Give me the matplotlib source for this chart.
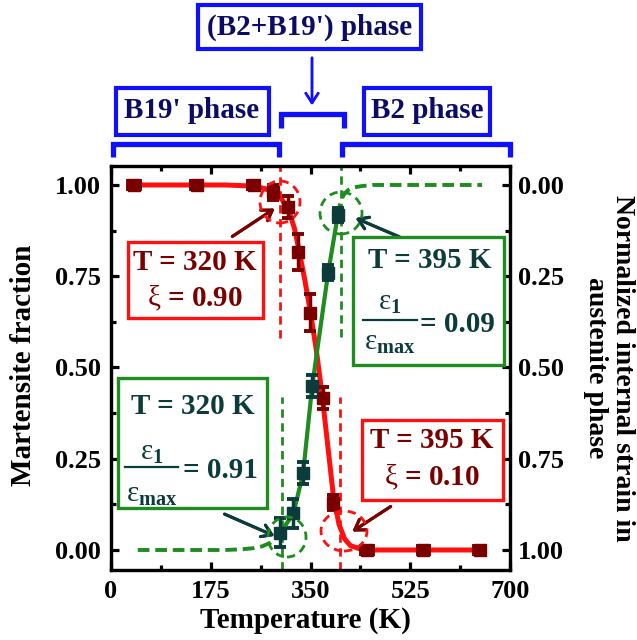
import matplotlib
matplotlib.use("Agg")
import matplotlib.pyplot as plt
from matplotlib.patches import Rectangle, Ellipse
from matplotlib.ticker import MultipleLocator

plt.rcParams["font.family"] = "Liberation Serif"
plt.rcParams["font.weight"] = "bold"
plt.rcParams["axes.labelweight"] = "bold"
plt.rcParams["mathtext.fontset"] = "custom"
plt.rcParams["mathtext.rm"] = "Liberation Serif:weight=bold"
plt.rcParams["mathtext.it"] = "Liberation Serif:weight=normal"
plt.rcParams["mathtext.bf"] = "Liberation Serif:weight=bold"

# martensite fraction data (left axis)
temp_mf = [40, 150, 250, 284, 311, 328, 349, 372, 389, 449, 548, 647]
frac_mf = [1.0, 1.0, 1.0, 0.98, 0.94, 0.816, 0.65, 0.416, 0.13, 0.0, 0.0, 0.0]
xerr_mf = [10, 10, 10, 6, 5, 3, 3, 3, 3, 10, 10, 10]
yerr_mf = [0.01, 0.01, 0.01, 0.02, 0.03, 0.05, 0.05, 0.03, 0.02, 0.01, 0.01, 0.01]

# martensite fraction fit curve
fit_temp = [40, 100, 150, 200, 250, 270, 285, 300, 312, 322, 330, 340, 350, 360,
            370, 380, 390, 400, 410, 420, 435, 450, 550, 650]
fit_mf = [1.0, 1.0, 1.0, 1.0, 0.997, 0.99, 0.98, 0.96, 0.93, 0.88, 0.82, 0.74, 0.65,
          0.55, 0.43, 0.29, 0.15, 0.07, 0.03, 0.012, 0.004, 0.0, 0.0, 0.0]

# normalized internal strain data (right axis, inverted)
temp_st = [297, 320, 337, 353, 381, 398]
strain = [0.953, 0.90, 0.79, 0.55, 0.24, 0.082]
xerr_st = [3, 3, 3, 3, 3, 3]
yerr_st = [0.04, 0.04, 0.03, 0.03, 0.02, 0.02]

# strain fit tails
tail_lo_temp = [47, 100, 150, 200, 230, 250, 265, 280, 290, 297]
tail_lo_strain = [1.0, 1.0, 1.0, 1.0, 0.998, 0.995, 0.99, 0.98, 0.968, 0.953]
tail_hi_temp = [398, 402, 408, 415, 425, 440, 460, 500, 600, 651]
tail_hi_strain = [0.082, 0.05, 0.028, 0.015, 0.007, 0.003, 0.0, 0.0, 0.0, 0.0]

RED = "#ff1010"
DRED = "#7a0000"
GREEN = "#1e8c1e"
DTEAL = "#0b3b3b"
BLUE = "#1010ff"
NAVY = "#0c0c66"

W, H = 637, 640
fig = plt.figure(figsize=(W / 100, H / 100), dpi=100)
ax = fig.add_axes([111 / W, 1 - 570 / H, 399 / W, 404 / H])
ax2 = ax.twinx()


def fx(x):
    return x / W


def fy(y):
    return 1 - y / H


# main curves
ax.plot(fit_temp, fit_mf, color=RED, lw=3.6, zorder=3)
ax.errorbar(temp_mf, frac_mf, xerr=xerr_mf, yerr=yerr_mf, fmt="s", ms=9,
            color=DRED, ecolor=DRED, elinewidth=2.5, capsize=4.5, capthick=2.8, zorder=4)

ax2.plot(temp_st, strain, color=GREEN, lw=3, zorder=3)
ax2.plot(tail_lo_temp, tail_lo_strain, color=GREEN, lw=2.8, ls=(0, (3, 1.5)), zorder=3)
ax2.plot(tail_hi_temp, tail_hi_strain, color=GREEN, lw=2.8, ls=(0, (3, 1.5)), zorder=3)
ax2.errorbar(temp_st, strain, xerr=xerr_st, yerr=yerr_st, fmt="s", ms=8,
             color=DTEAL, ecolor=DTEAL, elinewidth=2.5, capsize=4.5, capthick=2.8, zorder=4)

# vertical guide lines
ax.axvline(296, ymin=0.574, ymax=1, color=RED, lw=2, ls=(0, (3, 2)))
ax.axvline(402, ymin=0, ymax=0.428, color=RED, lw=2, ls=(0, (3, 2)))
ax.axvline(403, ymin=0.577, ymax=1, color=GREEN, lw=2, ls=(0, (3, 2)))
ax.axvline(300, ymin=0, ymax=0.427, color=GREEN, lw=2, ls=(0, (3, 2)))

# axes styling
ax.set_xlim(0, 700)
ax.set_ylim(-0.0548, 1.052)
ax2.set_ylim(1.0548, -0.052)
ax.xaxis.set_major_locator(MultipleLocator(175))
ax.xaxis.set_minor_locator(MultipleLocator(87.5))
for a in (ax, ax2):
    a.yaxis.set_major_locator(MultipleLocator(0.25))
    a.yaxis.set_minor_locator(MultipleLocator(0.125))
    for s in a.spines.values():
        s.set_linewidth(2.3)
ax.tick_params(which="both", direction="in", top=True, right=False, width=2.3, labelsize=19)
ax.tick_params(which="major", length=6, pad=7)
ax.tick_params(which="minor", length=3.5)
ax2.tick_params(which="both", direction="in", width=2.3, labelsize=19)
ax2.tick_params(which="major", length=6, pad=6)
ax2.tick_params(which="minor", length=3.5)
ax.set_yticks([0, 0.25, 0.5, 0.75, 1.0])
ax.set_yticklabels(["0.00", "0.25", "0.50", "0.75", "1.00"])
ax2.set_yticks([0, 0.25, 0.5, 0.75, 1.0])
ax2.set_yticklabels(["0.00", "0.25", "0.50", "0.75", "1.00"])

ax.set_xlabel("Temperature (K)", fontsize=21, fontweight="bold", va="center")
ax.xaxis.set_label_coords((305 - 111) / 399, (570 - 620) / 404)
ax.set_ylabel("Martensite fraction", fontsize=21, fontweight="bold", va="center")
ax.yaxis.set_label_coords((24 - 111) / 399, 0.507)
ax2.set_ylabel("Normalized internal strain in\naustenite phase", fontsize=20,
               fontweight="bold", rotation=270, va="center", ha="center",
               multialignment="center", linespacing=1.15)
ax2.yaxis.set_label_coords((609 - 111) / 399, 0.5)


def box(x0, y0, x1, y1, color, lw):
    fig.add_artist(Rectangle((fx(x0), fy(y1)), fx(x1) - fx(x0), fy(y0) - fy(y1),
                             transform=fig.transFigure, fill=False, ec=color, lw=lw,
                             zorder=6))
    fig.add_artist(Rectangle((fx(x0), fy(y1)), fx(x1) - fx(x0), fy(y0) - fy(y1),
                             transform=fig.transFigure, fill=True, fc="white", ec="none",
                             zorder=5))


def label(x, y, s, color, size=21, ha="center"):
    fig.text(fx(x), fy(y), s, color=color, fontsize=size, ha=ha, va="center",
             fontweight="bold", zorder=7)


def ring(x, y, w, h, color):
    fig.add_artist(Ellipse((fx(x), fy(y)), w / W, h / H, transform=fig.transFigure,
                           fill=False, ec=color, lw=2, ls=(0, (3, 2)), zorder=5))


def arrow(x0, y0, x1, y1, color, lw=1.8):
    fig.add_artist(plt.annotate("", xy=(fx(x1), fy(y1)), xytext=(fx(x0), fy(y0)),
                                xycoords="figure fraction", textcoords="figure fraction",
                                arrowprops=dict(arrowstyle="->,head_length=0.7,head_width=0.45",
                                                color=color, lw=lw)))


def hline(x0, x1, y, color, lw):
    fig.add_artist(plt.Line2D([fx(x0), fx(x1)], [fy(y), fy(y)], transform=fig.transFigure,
                              color=color, lw=lw, zorder=7))


def fraction(xc, ynum, yden, x0, x1, ybar, value, xval, yval, color):
    label(xc, ynum, r"$\varepsilon_{\mathrm{1}}$", color)
    label(xc, yden, r"$\varepsilon_{\mathrm{max}}$", color)
    hline(x0, x1, ybar, color, 1.6)
    label(xval, yval, value, color, ha="left")


# annotation circles and arrows
ring(280, 202, 40, 42, RED)
ring(341, 213, 42, 42, GREEN)
ring(287, 537, 38, 40, GREEN)
ring(344, 531, 46, 40, RED)
arrow(230, 238, 277, 207, DRED, 2.2)
arrow(402, 238, 353, 217, DTEAL, 2.2)
arrow(222, 513, 277, 537, DTEAL, 2.2)
arrow(393, 505, 350, 533, DRED, 2.2)

# annotation boxes
box(128, 242, 263, 318, RED, 2.4)
label(195, 263, "T = 320 K", DRED)
label(195, 298, r"$\xi$ = 0.90", DRED)

box(353, 237, 504, 365, GREEN, 2.4)
label(430, 261, "T = 395 K", DTEAL)
fraction(390, 302, 343, 363, 417, 320, "= 0.09", 420, 324, DTEAL)

box(118, 378, 267, 508, GREEN, 2.4)
label(193, 407, "T = 320 K", DTEAL)
fraction(152, 452, 494, 125, 178, 467, "= 0.91", 183, 471, DTEAL)

box(362, 420, 503, 500, RED, 2.4)
label(432, 441, "T = 395 K", DRED)
label(432, 477, r"$\xi$ = 0.10", DRED)

# phase boxes and brackets above the axes
box(198, 5, 421, 49, BLUE, 3)
label(310, 27, "(B2+B19') phase", NAVY)
box(116, 88, 269, 135, BLUE, 3)
label(192, 111, "B19' phase", NAVY)
box(364, 88, 490, 135, BLUE, 3)
label(427, 111, "B2 phase", NAVY)

for xs, ys in [((113, 113, 279, 279), (157, 144, 144, 157)),
               ((342, 342, 510, 510), (157, 144, 144, 157)),
               ((281, 281, 344, 344), (128, 114, 114, 128))]:
    fig.add_artist(plt.Line2D([fx(v) for v in xs], [fy(v) for v in ys],
                              transform=fig.transFigure, color=BLUE, lw=3.8,
                              solid_joinstyle="miter", solid_capstyle="butt"))
arrow(312, 55, 312, 108, BLUE, 1.8)

fig.savefig("out.png", dpi=100)
